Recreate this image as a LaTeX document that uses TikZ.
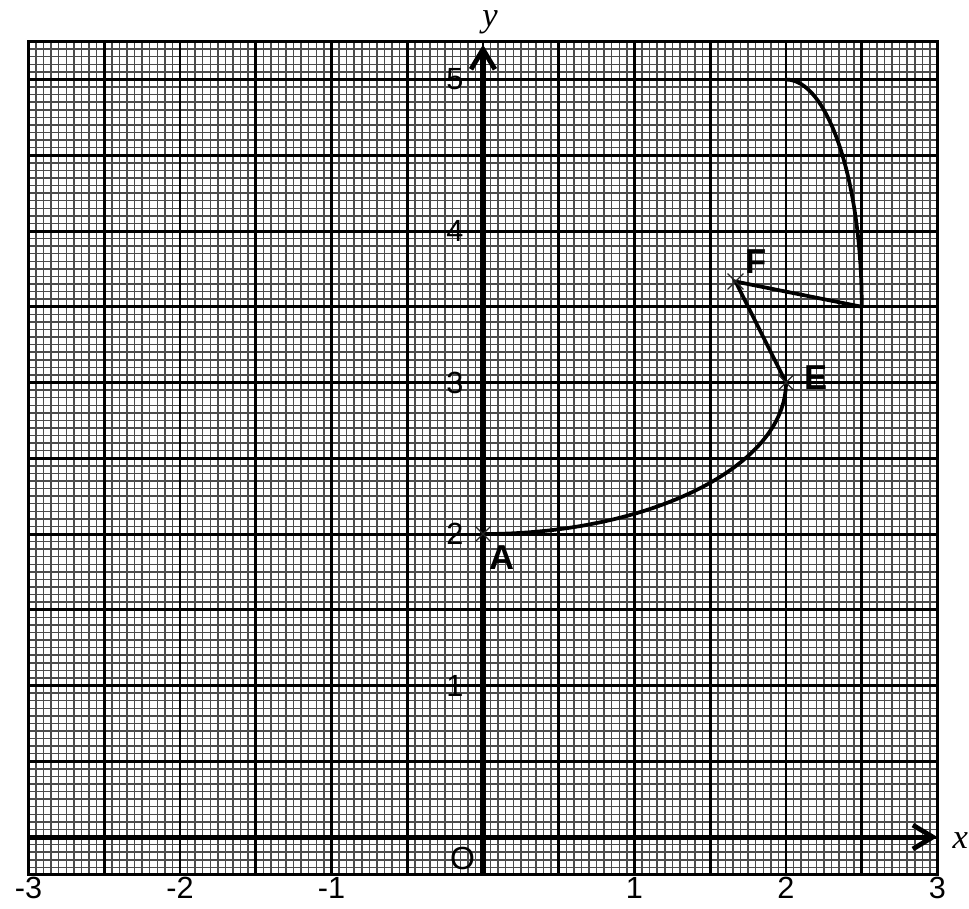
\documentclass[tikz,border=0pt]{standalone}
\usepackage{fontspec}
\setmainfont{Liberation Sans}
\newfontfamily\timesfont{Liberation Serif}
\usetikzlibrary{arrows.meta,shapes.misc}

\begin{document}
\begin{tikzpicture}[x=2cm,y=2cm,
    minorgrid/.style={black!70,line width=0.55pt},
    majorgrid/.style={black,line width=1.1pt},
    axisline/.style={line width=1.9pt,-{Straight Barb[length=7.5pt,width=9pt,line width=1.8pt]}},
    curveline/.style={line width=1.4pt},
    ptcross/.style={cross out,draw,black!85,line width=0.45pt,minimum size=5.5pt,inner sep=0pt},
    tick/.style={font=\fontsize{11.5}{12}\selectfont},
    ptlabel/.style={font=\fontsize{13}{14}\selectfont\bfseries},
    varlabel/.style={font=\timesfont\itshape\fontsize{13}{13}\selectfont}]
\useasboundingbox (-3.188,-0.469) rectangle (3.208,5.525);
% graph paper
\draw[minorgrid] (-3,-0.25) grid[step=0.05] (3,5.25);
\draw[majorgrid] (-3,-0.25) grid[step=0.5] (3,5.25);
\draw[majorgrid] (-3,-0.25) rectangle (3,5.25);
% axes
\coordinate (xstart) at (-3,0);
\coordinate (xend) at (3,0);
\coordinate (ystart) at (0,-0.25);
\coordinate (yend) at (0,5.23);
\draw[axisline] (xstart) -- (xend);
\draw[axisline] (ystart) -- (yend);
\node[varlabel] (xlab) at (3.15,-0.02) {x};
\node[varlabel] (ylab) at (0.046,5.38) {y};
\foreach \i in {-3,-2,-1,1,2,3}
    \node[tick] (xt\i) at (\i,-0.337) {\i};
\foreach \j in {1,...,5}
    \node[tick] (yt\j) at (-0.185,\j) {\j};
\node[tick,font=\fontsize{12}{12}\selectfont] (origin) at (-0.135,-0.139) {O};
% the path
\coordinate (A) at (0,2);
\coordinate (E) at (2,3);
\coordinate (F) at (5/3,11/3);
\coordinate (G) at (2.5,3.5);
\draw[curveline] (A) arc[start angle=-90,end angle=0,x radius=2,y radius=1];
\draw[curveline] (E) -- (F) -- (G);
\draw[curveline] (G) arc[start angle=0,end angle=90,x radius=0.5,y radius=1.5];
\foreach \p in {A,E,F}
    \node[ptcross] at (\p) {};
\node[ptlabel] (Alab) at (0.125,1.845) {A};
\node[ptlabel] (Elab) at (2.198,3.033) {E};
\node[ptlabel] (Flab) at (1.80,3.80) {F};
\end{tikzpicture}
\end{document}
